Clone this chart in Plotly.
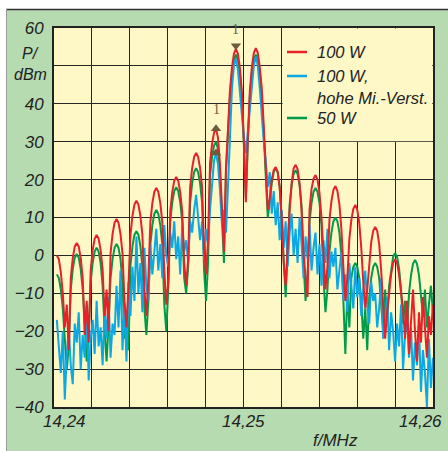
import numpy as np
import plotly.graph_objects as go

# ---- data ----
F_START = 14.24015   # MHz, first sweep point
F_STEP = 0.000105    # MHz, sweep point spacing

red_100w = [
    0, -1, -4.5, -10, -19, -13, -25, -6, -0.7, 2.3,
    3.3, 2.3, -0.7, -6, -21, -12, -23, -4, 1.4, 4.4,
    5.4, 4.4, 1.4, -3.6, -16, -9, -20, 0.6, 5.6, 8.6,
    9.6, 8.6, 5.6, 0.6, -12, -19, -8, 5.4, 10.4, 13.4,
    14.4, 13.4, 10.4, 5.4, -9, -16, -6, 8.8, 13.8, 16.8,
    17.8, 16.8, 13.8, 8.8, -4, -13, -7, 11.7, 16.7, 19.7,
    20.7, 19.7, 16.7, 11.7, -2, -8, -1, 18, 23, 26,
    27, 26, 23, 18, 2, -5, 4, 24.4, 29.4, 32.4,
    33.4, 31, 24, 14, 1, 23, 35, 43.5, 49.5, 53.2,
    54.5, 53.2, 49.5, 43, 30, 14, 31, 43.5, 49.7, 53.4,
    54.7, 53.4, 49.7, 44, 34, 22, 12, 15, 20, 22.5,
    23.3, 22, 18, 10, -2, -8, 3, 12, 19, 23,
    23.9, 22.8, 19, 12, 0, -6, -11, 12, 17.5, 20.2,
    21.2, 20, 16.5, 10, 0, -9, -3, 9.3, 14.3, 17.3,
    18.3, 17, 13.5, 7, -3, -12, -6, 4.3, 9.3, 12.3,
    13.3, 12, 8.5, 2, -7, -14, -9, -1.5, 3.5, 6.5,
    7.5, 6.5, 3, -4, -13, -22, -15, -10, -5, -2,
    -1, -2, -5, -10, -14, -22, -12, -26, -17, -9,
    -20, -28, -15, -23, -11, -19, -27, -16, -21, -13,
]

blue_100w_mic = [
    -17, -24, -31, -20, -38, -26, -19, -29, -34, -18,
    -23, -15, -30, -21, -27, -13, -33, -22, -17, -26,
    -12, -24, -19, -29, -14, -22, -11, -27, -18, -21,
    -8, -19, -4, -25, -13, -28, -7, -16, -3, -12,
    5, -10, -2, -15, 2, -8, -12, 3, -5, 1,
    7, -4, 3, -6, 8, 0, -3, 6, 2, 9,
    -1, 5, -5, 8, 1, 4, -2, 9, 6, 12,
    16, 10, 4, 9, -1, 7, 3, 12, 20, 25,
    27, 24, 17, 8, 12, 6, 18, 33, 44, 50,
    52, 49, 43, 35, 31, 27, 33, 38, 46, 50,
    52.5, 50, 44, 36, 30, 25, 18, 22, 11, 17,
    8, 14, 4, 12, 2, 9, -3, 6, 11, 0,
    7, -2, 10, 3, -6, 5, -1, 8, -4, 2,
    6, -5, 3, -8, 4, -2, 7, -6, 1, -3,
    2, -9, -4, 1, -12, -5, -15, -2, -8, -14,
    -3, -11, -6, -16, -9, -4, -13, -18, -7, -12,
    -10, -19, -14, -6, -22, -17, -11, -25, -15, -20,
    -28, -18, -24, -13, -30, -21, -16, -27, -19, -33,
    -23, -29, -18, -36, -25, -31, -40, -22, -35, -27,
]

green_50w = [
    -5, -6, -9, -14, -22, -30, -24, -9, -3.6, -0.6,
    0.4, -0.6, -3.6, -9, -17, -28, -21, -7, -2, 1,
    2, 1, -2, -8, -20, -28, -18, -6, -1, 2,
    3, 2, -1, -7, -22, -16, -25, -2.6, 2.4, 5.4,
    6.4, 5.4, 2.4, -3, -14, -21, -12, 3, 8, 11,
    12, 11, 8, 3, -13, -20, -9, 9, 14, 17,
    18, 17, 14, 9, -6, -10, -3, 14, 19, 22,
    23, 22, 19, 14, -4, -12, -2, 21, 26, 29,
    30, 28, 21, 11, -2, 22, 34, 42, 48, 51.7,
    53, 51.7, 48, 42, 29, 15, 30, 42, 48, 51.7,
    53, 51.7, 48, 42, 32, 20, 10, 14, 19, 22,
    23, 22, 18, 9, -3, -11, 1, 13.5, 18.5, 21.5,
    22.5, 21.5, 18.5, 13, -2, -12, -5, 8.8, 13.8, 16.8,
    17.8, 16.8, 13.8, 8, -6, -15, -9, 1, 6, 9,
    10, 9, 6, 0, -12, -26, -9, -19, -6, -3,
    -2, -3, -6, -12, -22, -14, -25, -11, -6, -3,
    -2, -3, -6, -12, -20, -9, -17, -8, -3.4, -0.4,
    0.6, -0.4, -3.4, -9, -18, -12, -20, -10, -5.2, -2.2,
    -1.2, -2.2, -5.2, -10, -16, -9, -19, -13, -8, -15,
]

series_names = ["100 W", "100 W,", "hohe Mi.-Verst.", "50 W"]
x_tick_vals = [14.24, 14.25, 14.26]
x_tick_labels = ["14,24", "14,25", "14,26"]
x_grid = [14.24, 14.242, 14.244, 14.246, 14.248, 14.25, 14.252, 14.254, 14.256, 14.258, 14.26]
y_tick_vals = [-40, -30, -20, -10, 0, 10, 20, 30, 40, 50, 60]
y_tick_labels = ["\u221240", "\u221230", "\u221220", "\u221210", "0", "10", "20", "30", "40", "", "60"]
marker_main_idx = 90   # marker "1" on main tone
marker_imd_idx = 80    # marker "1" on 3rd-order product

# ---- styling ----
RED = "#e8202a"
BLUE = "#0aa8e6"
GREEN = "#009b4a"
BROWN = "#6e5a3c"
PLOT_BG = "#fdf8c6"
PAPER_BG = "#b6dbb1"
GRID = "#262626"
FONT = "Liberation Sans, Arial, sans-serif"

freq = F_START + F_STEP * np.arange(len(red_100w))

fig = go.Figure()
fig.add_trace(go.Scatter(x=freq, y=green_50w, mode="lines",
                         line=dict(color=GREEN, width=2), showlegend=False))
fig.add_trace(go.Scatter(x=freq, y=blue_100w_mic, mode="lines",
                         line=dict(color=BLUE, width=2), showlegend=False))
fig.add_trace(go.Scatter(x=freq, y=red_100w, mode="lines",
                         line=dict(color=RED, width=2), showlegend=False))

# markers
fig.add_trace(go.Scatter(x=[freq[marker_main_idx]], y=[red_100w[marker_main_idx] + 0.8],
                         mode="markers", marker=dict(symbol="triangle-down", size=9, color=BROWN),
                         showlegend=False))
fig.add_trace(go.Scatter(x=[freq[marker_imd_idx], freq[marker_imd_idx]],
                         y=[red_100w[marker_imd_idx], blue_100w_mic[marker_imd_idx]],
                         mode="markers", marker=dict(symbol="triangle-up", size=9, color=BROWN),
                         showlegend=False))

annotations = []
for idx, val in [(marker_main_idx, red_100w[marker_main_idx]), (marker_imd_idx, red_100w[marker_imd_idx])]:
    annotations.append(dict(x=freq[idx], y=val, text="1", showarrow=False, yanchor="bottom",
                            yshift=10, font=dict(family="Liberation Serif, serif", size=14, color=BROWN)))

# x tick labels
for v, t, anc, sh in zip(x_tick_vals, x_tick_labels, ["left", "center", "right"], [-13, 0, 11]):
    annotations.append(dict(x=v, xref="x", y=0, yref="paper", text="<i>%s</i>" % t, showarrow=False,
                            xanchor=anc, yanchor="top", xshift=sh, yshift=-3,
                            font=dict(family=FONT, size=17, color="#222")))

# axis titles
annotations.append(dict(x=(335 - 54) / 379, y=(407 - 440) / 379, xref="paper", yref="paper",
                        text="<i>f/MHz</i>", showarrow=False, xanchor="center", yanchor="middle",
                        font=dict(family=FONT, size=17, color="#222")))
annotations.append(dict(x=(30 - 54) / 379, y=(407 - 54) / 379, xref="paper", yref="paper",
                        text="<i>P/</i>", showarrow=False, xanchor="center", yanchor="middle",
                        font=dict(family=FONT, size=16, color="#222")))
annotations.append(dict(x=(30 - 54) / 379, y=(407 - 74) / 379, xref="paper", yref="paper",
                        text="<i>dBm</i>", showarrow=False, xanchor="center", yanchor="middle",
                        font=dict(family=FONT, size=16, color="#222")))

# custom legend
leg_items = [(series_names[0], RED, 52), (series_names[1], BLUE, 76),
             (series_names[2], None, 98), (series_names[3], GREEN, 118)]
shapes = []
for name, col, ypx in leg_items:
    yp = (407 - ypx) / 379
    annotations.append(dict(x=(315 - 54) / 379, y=yp, xref="paper", yref="paper", text="<i>%s</i>" % name,
                            showarrow=False, xanchor="left", yanchor="middle",
                            font=dict(family=FONT, size=16.5, color="#222")))
    if col:
        shapes.append(dict(type="line", xref="paper", yref="paper",
                           x0=(287 - 54) / 379, x1=(307 - 54) / 379, y0=yp, y1=yp,
                           line=dict(color=col, width=2.5), layer="above"))

# legend backing box covering the grid
shapes.insert(0, dict(type="rect", xref="x", yref="y", x0=14.25206, x1=14.25996, y0=30.15, y1=59.85,
                      fillcolor=PLOT_BG, line=dict(width=0), layer="above"))

# page frame: white strips at top/left and border lines
shapes += [
    dict(type="rect", xref="paper", yref="paper", x0=-0.2, x1=1.1, y0=(407 - 9) / 379, y1=1.2,
         fillcolor="white", line=dict(width=0), layer="above"),
    dict(type="rect", xref="paper", yref="paper", x0=-0.2, x1=(6 - 54) / 379, y0=-0.2, y1=1.2,
         fillcolor="white", line=dict(width=0), layer="above"),
    dict(type="line", xref="paper", yref="paper", x0=(6 - 54) / 379, x1=1.1,
         y0=(407 - 9.5) / 379, y1=(407 - 9.5) / 379, line=dict(color="#333", width=1.5), layer="above"),
    dict(type="line", xref="paper", yref="paper", x0=(6.5 - 54) / 379, x1=(6.5 - 54) / 379,
         y0=-0.2, y1=(407 - 9) / 379, line=dict(color="#999", width=1), layer="above"),
]

fig.update_layout(
    width=448, height=451,
    margin=dict(l=54, r=15, t=28, b=44),
    paper_bgcolor=PAPER_BG, plot_bgcolor=PLOT_BG,
    showlegend=False,
    annotations=annotations, shapes=shapes,
    font=dict(family=FONT, size=17, color="#222"),
)
fig.update_xaxes(range=[14.24, 14.26], tickvals=x_grid, showticklabels=False,
                 showgrid=True, gridcolor=GRID, gridwidth=1.3, zeroline=False,
                 showline=True, linecolor="#222", linewidth=2, mirror=True, ticks="")
fig.update_yaxes(range=[-40, 60], tickvals=y_tick_vals,
                 ticktext=["<i>%s</i>" % t if t else "" for t in y_tick_labels],
                 showgrid=True, gridcolor=GRID, gridwidth=1.3, zeroline=False,
                 showline=True, linecolor="#222", linewidth=2, mirror=True, ticks="",
                 ticklabelstandoff=5,
                 tickfont=dict(family=FONT, size=17, color="#222"))

fig.write_html("out.html")
